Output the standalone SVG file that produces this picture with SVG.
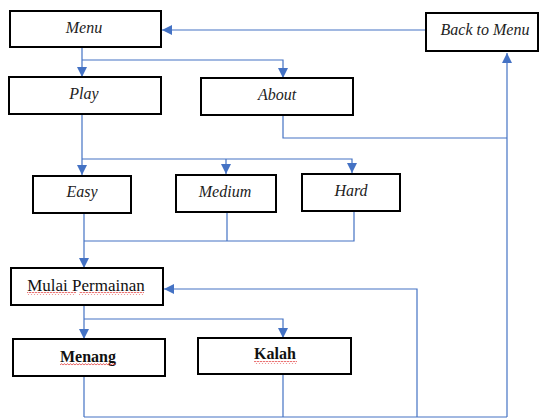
<svg xmlns="http://www.w3.org/2000/svg" width="539" height="418" viewBox="0 0 539 418" font-family="'Liberation Serif', 'DejaVu Serif', serif">
<style>
.box{fill:#fff;stroke:#000;stroke-width:2}
text{text-anchor:middle}
.it{font-style:italic;font-size:16px;fill:#222}
.rg{font-size:17px;fill:#111}
.bd{font-size:16px;font-weight:bold;fill:#111}
.ln{fill:none;stroke:#4472C4;stroke-width:1.2}
.arr{marker-end:url(#ah)}
.wv{fill:url(#wave)}
</style>
<defs>
<marker id="ah" markerUnits="userSpaceOnUse" markerWidth="10" markerHeight="10" refX="10" refY="5" orient="auto" viewBox="0 0 10 10">
<path d="M0,0 L10,5 L0,10 z" fill="#4472C4"/>
</marker>
<pattern id="wave" patternUnits="userSpaceOnUse" width="3" height="3">
<path d="M0,2.2 L1.5,0.6 L3,2.2" fill="none" stroke="#e03030" stroke-width="0.8"/>
</pattern>
</defs>
<g id="connectors">
<path class="ln arr" d="M426,30 H162"/>
<path class="ln arr" d="M82,48 V77"/>
<path class="ln arr" d="M82,60 H283 V78"/>
<path class="ln" d="M283,115 V138 H507"/>
<path class="ln arr" d="M507,417 V53"/>
<path class="ln" d="M84,417 H507"/>
<path class="ln arr" d="M82,114 V175"/>
<path class="ln arr" d="M82,159 H352 V173"/>
<path class="ln arr" d="M226,159 V174"/>
<path class="ln" d="M227,212 V241"/>
<path class="ln" d="M354,211 V241 H84"/>
<path class="ln arr" d="M84,213 V268"/>
<path class="ln arr" d="M84,305 V339"/>
<path class="ln arr" d="M84,319 H283 V338"/>
<path class="ln" d="M84,376 V417"/>
<path class="ln" d="M283,374 V417"/>
<path class="ln arr" d="M417,417 V289 H164"/>
</g>
<g id="menu"><rect class="box" x="10" y="11" width="151" height="36"/><text class="it" x="84" y="33">Menu</text></g>
<g id="back"><rect class="box" x="426" y="13" width="112" height="38"/><text class="it" x="485" y="35">Back to Menu</text></g>
<g id="play"><rect class="box" x="9" y="77" width="152" height="37"/><text class="it" x="84" y="99">Play</text></g>
<g id="about"><rect class="box" x="201" y="78" width="152" height="37"/><text class="it" x="277" y="100">About</text></g>
<g id="easy"><rect class="box" x="33" y="176" width="98" height="37"/><text class="it" x="82" y="197">Easy</text></g>
<g id="medium"><rect class="box" x="176" y="175" width="100" height="37"/><text class="it" x="225" y="197">Medium</text></g>
<g id="hard"><rect class="box" x="302" y="174" width="98" height="37"/><text class="it" x="351" y="196">Hard</text></g>
<g id="mulai"><rect class="box" x="11" y="268" width="152" height="37"/><text class="rg" x="86" y="291">Mulai Permainan</text>
<rect class="wv" x="27" y="292" width="49" height="3"/><rect class="wv" x="79" y="292" width="65" height="3"/></g>
<g id="menang"><rect class="box" x="13" y="339" width="152" height="37"/><text class="bd" x="88" y="362">Menang</text>
<rect class="wv" x="60" y="363" width="56" height="3"/></g>
<g id="kalah"><rect class="box" x="198" y="338" width="153" height="36"/><text class="bd" x="275" y="359">Kalah</text>
<rect class="wv" x="254" y="361" width="43" height="3"/></g>
</svg>
